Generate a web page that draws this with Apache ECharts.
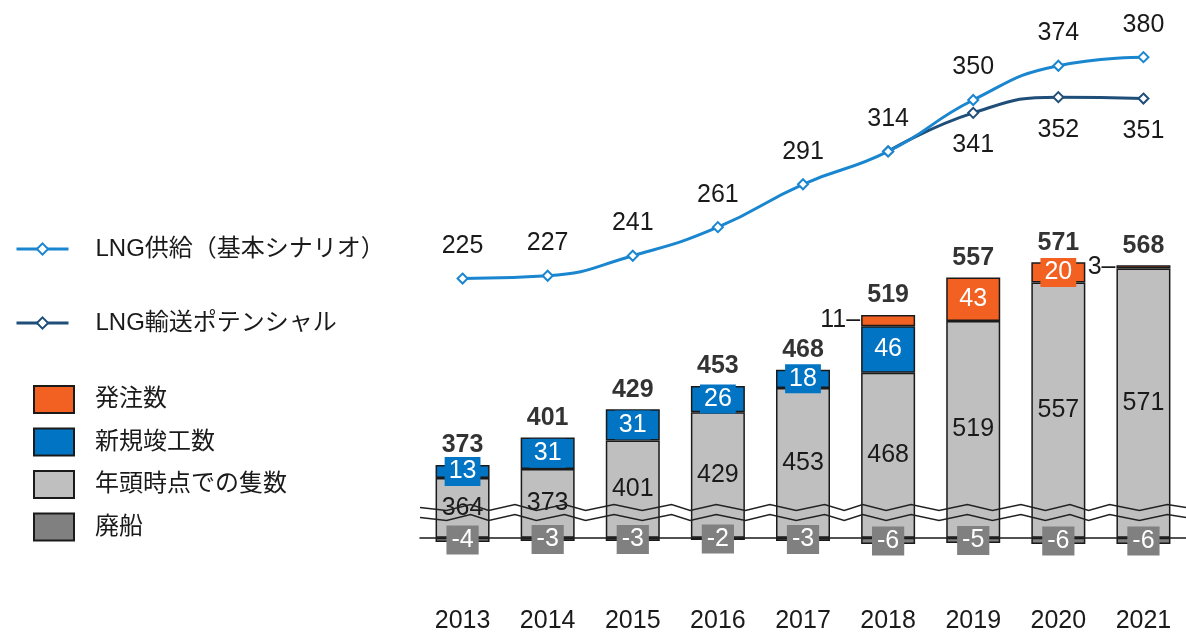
<!DOCTYPE html>
<html><head><meta charset="utf-8">
<script src="https://cdn.jsdelivr.net/npm/echarts@6/dist/echarts.min.js"></script>
<style>html,body{margin:0;padding:0;background:#fff}#c{width:1186px;height:634px}</style>
</head><body><div id="c"></div>
<script>
const years = ['2013','2014','2015','2016','2017','2018','2019','2020','2021'];
const startCount = [364, 373, 401, 429, 453, 468, 519, 557, 571];
const newBuilds = [13, 31, 31, 26, 18, 46, null, null, null];
const orders = [null, null, null, null, null, 11, 43, 20, 3];
const scrapped = [-4, -3, -3, -2, -3, -6, -5, -6, -6];
const totals = [373, 401, 429, 453, 468, 519, 557, 571, 568];
const supply = [225, 227, 241, 261, 291, 314, 350, 374, 380];
const transport = [null, null, null, null, null, 314, 341, 352, 351];

const FONT = '"Liberation Sans", Arial, "Noto Sans CJK JP", sans-serif';
const TXT = '#1a1a1a';
const C_GRAY = '#bfbfbf', C_BLUE = '#0274c4', C_ORANGE = '#f26122', C_DARK = '#808080';
const C_LINE1 = '#1a86d0', C_LINE2 = '#1f4e79';

const tops = years.map((_, i) => startCount[i] + (newBuilds[i] || 0) + (orders[i] || 0));

const chart = echarts.init(document.getElementById('c'));
const barBase = {
  type: 'bar', stack: 'a', xAxisIndex: 0, yAxisIndex: 0, barWidth: 54,
  emphasis: { disabled: true }
};
const border = { borderColor: '#1a1a1a', borderWidth: 1.5 };

const orderData = orders.map(v => {
  if (v == null) return null;
  if (v < 15) {
    return { value: v, label: { position: 'left', distance: 1, color: TXT, backgroundColor: 'transparent', padding: 0, formatter: '{c}–' } };
  }
  return v;
});

const transportData = transport.map((v, i) => {
  if (v != null && v === supply[i]) return { value: v, label: { show: false } };
  return v;
});

chart.setOption({
  animation: false,
  textStyle: { fontFamily: FONT },
  grid: [
    { left: 420, right: -7, top: 239, bottom: 79 },
    { left: 420, right: -7, top: 40, bottom: 74 }
  ],
  legend: [
    {
      data: ['LNG供給（基本シナリオ）', 'LNG輸送ポテンシャル'],
      orient: 'vertical', left: 10, top: 232, itemWidth: 52, itemHeight: 14, itemGap: 50,
      selectedMode: false,
      lineStyle: { width: 3 },
      textStyle: { fontSize: 24, color: TXT, fontFamily: FONT, padding: [0, 0, 0, 22] }
    },
    {
      data: ['発注数', '新規竣工数', '年頭時点での隻数', '廃船'],
      orient: 'vertical', left: 28, top: 380, itemWidth: 40, itemHeight: 27, itemGap: 13.5,
      icon: 'rect', selectedMode: false,
      textStyle: { fontSize: 24, color: TXT, fontFamily: FONT, padding: [0, 0, 0, 16] }
    }
  ],
  xAxis: [
    {
      type: 'category', gridIndex: 0, data: years,
      axisLine: { onZero: true, lineStyle: { color: TXT, width: 1.5 } },
      axisTick: { show: false },
      axisLabel: { margin: 61, fontSize: 25, color: TXT, fontFamily: FONT }
    },
    { type: 'category', gridIndex: 1, data: years, show: false }
  ],
  yAxis: [
    {
      type: 'value', gridIndex: 0, min: -10, max: 600, interval: 5,
      breaks: [{ start: 20, end: 335, gap: 10 }],
      breakArea: {
        show: true,
        itemStyle: { color: 'rgba(255,255,255,0)', borderColor: '#222', borderWidth: 1.5, borderType: 'solid', opacity: 1 },
        zigzagAmplitude: 3, zigzagMinSpan: 18, zigzagMaxSpan: 30, zigzagZ: 100,
        expandOnClick: false
      },
      axisLine: { show: false }, axisTick: { show: false },
      axisLabel: { show: false }, splitLine: { show: false }
    },
    { type: 'value', gridIndex: 1, min: 28, max: 392, show: false }
  ],
  series: [
    Object.assign({}, barBase, {
      name: '年頭時点での隻数', data: startCount,
      itemStyle: Object.assign({ color: C_GRAY }, border),
      label: { show: true, position: 'inside', fontSize: 25, color: TXT, fontFamily: FONT }
    }),
    Object.assign({}, barBase, {
      name: '新規竣工数', data: newBuilds,
      itemStyle: Object.assign({ color: C_BLUE }, border),
      label: { show: true, position: 'inside', fontSize: 25, color: '#fff', fontFamily: FONT,
        backgroundColor: C_BLUE, padding: [2, 4] }
    }),
    Object.assign({}, barBase, {
      name: '発注数', data: orderData,
      itemStyle: Object.assign({ color: C_ORANGE }, border),
      label: { show: true, position: 'inside', fontSize: 25, color: '#fff', fontFamily: FONT,
        backgroundColor: C_ORANGE, padding: [2, 4] }
    }),
    Object.assign({}, barBase, {
      name: '廃船', data: scrapped,
      itemStyle: Object.assign({ color: C_DARK }, border),
      label: { show: true, position: 'inside', fontSize: 25, color: '#fff', fontFamily: FONT,
        backgroundColor: C_DARK, padding: [2, 5] }
    }),
    {
      type: 'scatter', name: 'total', xAxisIndex: 0, yAxisIndex: 0, data: tops,
      symbolSize: 0, silent: true, z: 10,
      label: { show: true, position: 'top', distance: 7, fontSize: 25, fontWeight: 'bold', color: '#000',
        fontFamily: FONT, formatter: p => String(totals[p.dataIndex]) }
    },
    {
      type: 'line', name: 'LNG輸送ポテンシャル', xAxisIndex: 1, yAxisIndex: 1, data: transportData,
      smooth: true, symbol: 'emptyDiamond', symbolSize: 10, z: 3,
      itemStyle: { color: C_LINE2, borderWidth: 2 }, lineStyle: { color: C_LINE2, width: 3 },
      label: { show: true, position: 'bottom', distance: 14, fontSize: 25, color: TXT, fontFamily: FONT }
    },
    {
      type: 'line', name: 'LNG供給（基本シナリオ）', xAxisIndex: 1, yAxisIndex: 1, data: supply,
      smooth: true, symbol: 'emptyDiamond', symbolSize: 10, z: 4,
      itemStyle: { color: C_LINE1, borderWidth: 2 }, lineStyle: { color: C_LINE1, width: 3 },
      label: { show: true, position: 'top', distance: 14, fontSize: 25, color: TXT, fontFamily: FONT }
    }
  ]
});
</script></body></html>
